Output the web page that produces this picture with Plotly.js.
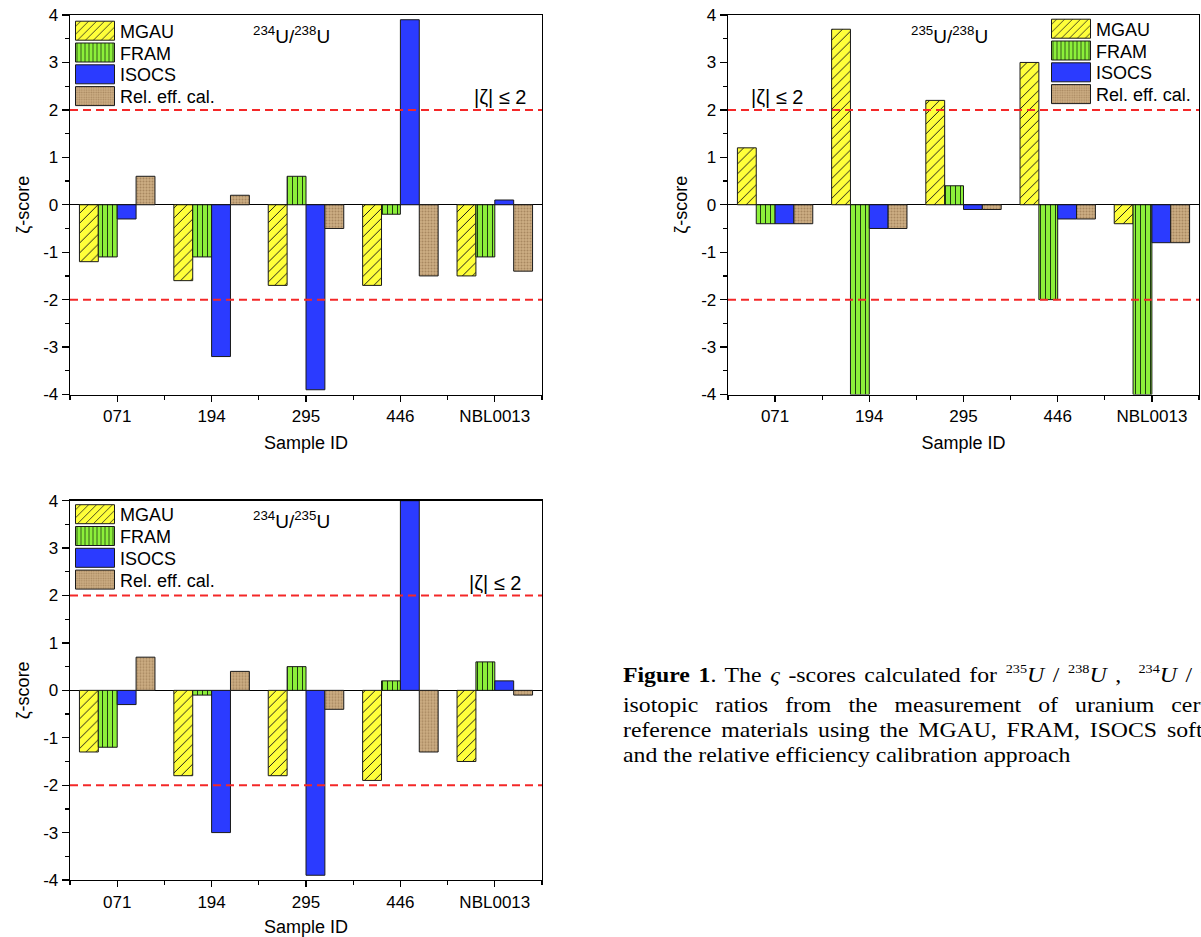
<!DOCTYPE html>
<html>
<head>
<meta charset="utf-8">
<script src="https://cdn.plot.ly/plotly-3.0.1.min.js"></script>
<style>
html,body{margin:0;padding:0;background:#fff;overflow:hidden;width:1201px;height:937px;}
#chart{position:absolute;left:0;top:0;width:1201px;height:937px;}
#caption{position:absolute;left:623px;top:0;width:700px;height:937px;font-family:"Liberation Serif","Times New Roman",serif;font-size:22px;color:#000;transform:scaleX(1.08);transform-origin:0 0;pointer-events:none;}
#caption .ln{position:absolute;left:0;white-space:nowrap;line-height:22px;height:22px;}
#caption sup{font-size:0.6em;line-height:0;vertical-align:0;position:relative;top:-0.62em;}
</style>
</head>
<body>
<div id="chart"></div>
<div id="caption">
  <div class="ln" style="top:663.6px;word-spacing:2.5px;"><b>Figure 1</b>. The <i>ς</i> -scores calculated for <sup>235</sup><i>U</i> / <sup>238</sup><i>U</i> ,&nbsp; <sup>234</sup><i>U</i> / <sup>238</sup><i>U</i> and <sup>234</sup><i>U</i> / <sup>235</sup><i>U</i></div>
  <div class="ln" style="top:693.8px;word-spacing:10.3px;">isotopic ratios from the measurement of uranium certified</div>
  <div class="ln" style="top:719px;word-spacing:3.6px;">reference materials using the MGAU, FRAM, ISOCS software</div>
  <div class="ln" style="top:744px;">and the relative efficiency calibration approach</div>
</div>
<script>
// ---------- data ----------
const categories = ['071', '194', '295', '446', 'NBL0013'];
const seriesNames = ['MGAU', 'FRAM', 'ISOCS', 'Rel. eff. cal.'];

// 234U/238U (top-left)
const r48_MGAU  = [-1.2, -1.6, -1.7, -1.7, -1.5];
const r48_FRAM  = [-1.1, -1.1,  0.6, -0.2, -1.1];
const r48_ISOCS = [-0.3, -3.2, -3.9,  3.9,  0.1];
const r48_REL   = [ 0.6,  0.2, -0.5, -1.5, -1.4];

// 235U/238U (top-right)
const r58_MGAU  = [ 1.2,  3.7,  2.2,  3.0, -0.4];
const r58_FRAM  = [-0.4, -4.0,  0.4, -2.0, -4.0];
const r58_ISOCS = [-0.4, -0.5, -0.1, -0.3, -0.8];
const r58_REL   = [-0.4, -0.5, -0.1, -0.3, -0.8];

// 234U/235U (bottom)
const r45_MGAU  = [-1.3, -1.8, -1.8, -1.9, -1.5];
const r45_FRAM  = [-1.2, -0.1,  0.5,  0.2,  0.6];
const r45_ISOCS = [-0.3, -3.0, -3.9,  4.0,  0.2];
const r45_REL   = [ 0.7,  0.4, -0.4, -1.3, -0.1];

const yTicks = [-4, -3, -2, -1, 0, 1, 2, 3, 4];
const zetaLimit = 2;
const panelLabels = ['<sup>234</sup>U/<sup>238</sup>U', '<sup>235</sup>U/<sup>238</sup>U', '<sup>234</sup>U/<sup>235</sup>U'];
const limitLabel = '|ζ| ≤ 2';
const xTitle = 'Sample ID';
const yTitle = 'ζ-score';

// ---------- styles ----------
const FONT = 'Arial, "Liberation Sans", sans-serif';
const edge = {color: '#1a1a1a', width: 1};
const styles = [
  {color: '#FFFF3A', pattern: {shape: '/', fgcolor: '#1a1a1a', bgcolor: '#FFFF3A', size: 7, solidity: 0.14}},
  {color: '#8CF03A', pattern: {shape: '|', fgcolor: '#1f3a10', bgcolor: '#8CF03A', size: 5, solidity: 0.2}},
  {color: '#2B3BFF', pattern: {shape: ''}},
  {color: '#CDAE84', pattern: {shape: '.', fgcolor: '#A88860', bgcolor: '#CDAE84', size: 3, solidity: 0.35}}
];

const idx = categories.map((c, i) => i);
const panels = [
  {vals: [r48_MGAU, r48_FRAM, r48_ISOCS, r48_REL], xa: 'x',  ya: 'y',  legend: 'legend'},
  {vals: [r58_MGAU, r58_FRAM, r58_ISOCS, r58_REL], xa: 'x2', ya: 'y2', legend: 'legend2'},
  {vals: [r45_MGAU, r45_FRAM, r45_ISOCS, r45_REL], xa: 'x3', ya: 'y3', legend: 'legend3'}
];

const traces = [];
panels.forEach(p => {
  p.vals.forEach((v, k) => {
    traces.push({
      type: 'bar', x: idx, y: v, name: seriesNames[k],
      xaxis: p.xa, yaxis: p.ya, legend: p.legend,
      marker: {color: styles[k].color, pattern: styles[k].pattern, line: edge},
      hoverinfo: 'skip'
    });
  });
});

const W = 1201, H = 937;
const dTL = {x: [70 / W, 542 / W], y: [1 - 394.5 / H, 1 - 15 / H]};
const dTR = {x: [728 / W, 1199 / W], y: [1 - 394.5 / H, 1 - 15 / H]};
const dB  = {x: [70 / W, 542 / W], y: [1 - 880 / H, 1 - 500.7 / H]};

function xAxis(domain, anchor) {
  return {
    domain: domain, anchor: anchor, range: [-0.5, categories.length - 0.5],
    tickmode: 'array', tickvals: idx, ticktext: categories,
    ticks: 'outside', ticklen: 6, tickwidth: 1.3, tickcolor: '#000',
    minor: {tickmode: 'array', tickvals: [-0.5].concat(idx.map(i => i + 0.5)), ticks: 'outside', ticklen: 4, tickwidth: 1.3, tickcolor: '#000'},
    showline: true, linecolor: '#000', linewidth: 1.3, mirror: true,
    showgrid: false, zeroline: false, fixedrange: true,
    tickfont: {family: FONT, size: 17, color: '#000'},
    title: {text: xTitle, font: {family: FONT, size: 18, color: '#000'}, standoff: 11}
  };
}
function yAxis(domain, anchor) {
  return {
    domain: domain, anchor: anchor, range: [-4, 4],
    tickmode: 'array', tickvals: yTicks, ticktext: yTicks.map(String),
    ticks: 'outside', ticklen: 7, tickwidth: 1.3, tickcolor: '#000',
    minor: {dtick: 0.5, tick0: 0, ticks: 'outside', ticklen: 4, tickwidth: 1.3, tickcolor: '#000'},
    showline: true, linecolor: '#000', linewidth: 1.3, mirror: true,
    showgrid: false, zeroline: true, zerolinecolor: '#000', zerolinewidth: 1.3, fixedrange: true,
    tickfont: {family: FONT, size: 17, color: '#000'},
    title: {text: yTitle, font: {family: FONT, size: 18, color: '#000'}, standoff: 9}
  };
}

const shapes = [];
['y', 'y2', 'y3'].forEach((ya, i) => {
  const xa = ['x', 'x2', 'x3'][i];
  [zetaLimit, -zetaLimit].forEach(v => shapes.push({
    type: 'line', xref: xa + ' domain', x0: 0, x1: 1, yref: ya, y0: v, y1: v,
    line: {color: '#F42828', width: 2, dash: '8px,5px'}, layer: 'above'
  }));
});

const annFont = {family: FONT, size: 19, color: '#000'};
const limFont = {family: FONT, size: 20, color: '#000'};
const annotations = [
  {xref: 'x domain', yref: 'y domain', x: 0.47, y: 0.947, xanchor: 'center', yanchor: 'middle', text: panelLabels[0], showarrow: false, font: annFont},
  {xref: 'x2 domain', yref: 'y2 domain', x: 0.471, y: 0.947, xanchor: 'center', yanchor: 'middle', text: panelLabels[1], showarrow: false, font: annFont},
  {xref: 'x3 domain', yref: 'y3 domain', x: 0.47, y: 0.949, xanchor: 'center', yanchor: 'middle', text: panelLabels[2], showarrow: false, font: annFont},
  {xref: 'x domain', yref: 'y', x: 0.911, y: zetaLimit, xanchor: 'center', yanchor: 'bottom', text: limitLabel, showarrow: false, font: limFont},
  {xref: 'x2 domain', yref: 'y2', x: 0.104, y: zetaLimit, xanchor: 'center', yanchor: 'bottom', text: limitLabel, showarrow: false, font: limFont},
  {xref: 'x3 domain', yref: 'y3', x: 0.90, y: zetaLimit, xanchor: 'center', yanchor: 'bottom', text: limitLabel, showarrow: false, font: limFont}
];

function legendAt(xpx, ypx) {
  return {x: xpx / W, y: 1 - ypx / H, xanchor: 'left', yanchor: 'top', bgcolor: 'rgba(0,0,0,0)',
          borderwidth: 0, itemwidth: 40, font: {family: FONT, size: 18, color: '#000'}, tracegroupgap: 0};
}

const layout = {
  width: W, height: H, margin: {l: 0, r: 0, t: 0, b: 0},
  paper_bgcolor: '#fff', plot_bgcolor: '#fff',
  barmode: 'group', bargap: 0.2, bargroupgap: 0,
  font: {family: FONT, color: '#000'},
  xaxis: xAxis(dTL.x, 'y'), yaxis: yAxis(dTL.y, 'x'),
  xaxis2: xAxis(dTR.x, 'y2'), yaxis2: yAxis(dTR.y, 'x2'),
  xaxis3: xAxis(dB.x, 'y3'), yaxis3: yAxis(dB.y, 'x3'),
  legend: legendAt(70, 12.5), legend2: legendAt(1046, 10.5), legend3: legendAt(70, 496),
  shapes: shapes, annotations: annotations
};

Plotly.newPlot('chart', traces, layout, {staticPlot: true, displayModeBar: false}).then(gd => {
  // enlarge legend swatches and tighten row spacing to match the reference
  ['legend', 'legend2', 'legend3'].forEach(name => {
    const lg = gd.querySelector('g.' + name);
    if (!lg) return;
    lg.querySelectorAll('g.legendpoints path').forEach(p => p.setAttribute('d', 'M19.5,9.5H-19.5V-9.5H19.5Z'));
    const items = lg.querySelectorAll('g.traces');
    if (!items.length) return;
    const m = /translate\(\s*([-\d.]+)[ ,]+([-\d.]+)/.exec(items[0].getAttribute('transform') || '');
    if (!m) return;
    const x0 = parseFloat(m[1]), y0 = parseFloat(m[2]);
    items.forEach((it, i) => it.setAttribute('transform', 'translate(' + x0 + ',' + (y0 + i * 21.8) + ')'));
  });
});
</script>
</body>
</html>
